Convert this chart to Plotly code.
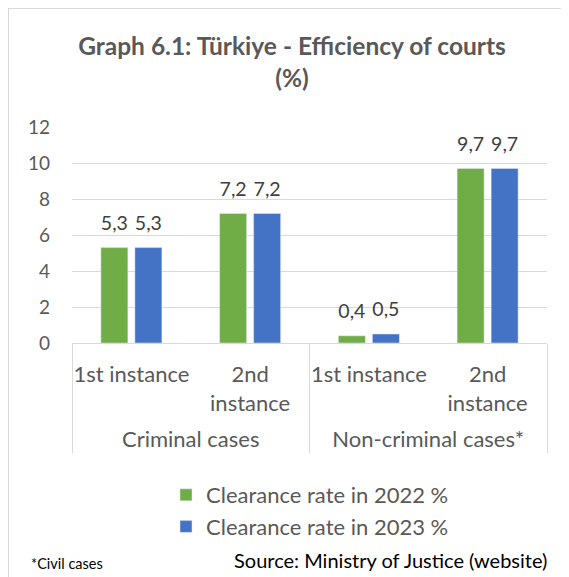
import plotly.graph_objects as go

groups = ["Criminal cases", "Criminal cases", "Non-criminal cases*", "Non-criminal cases*"]
instances = ["1st instance", "2nd<br>instance", "1st instance", "2nd<br>instance"]
rate_2022 = [5.3, 7.2, 0.4, 9.7]
rate_2023 = [5.3, 7.2, 0.5, 9.7]
series_names = ["Clearance rate in 2022 %", "Clearance rate in 2023 %"]
colors = ["#70AD47", "#4472C4"]

# page has an 8px body margin: work in page pixels, convert to figure pixels
OFF = 8
W, H = 561, 569
L, R = 72 - OFF, W - (547 - OFF)
T, B = 127 - OFF, H - (343 - OFF)
pw, ph = W - L - R, H - T - B

def px(x):
    return (x - OFF - L) / pw

def py(y):
    return (H - B - (y - OFF)) / ph

FONT = "Lato"
GAP = 0.427
CAT_SIZE = 22
# group (outer) labels: pushed a little lower, as in the reference
group_labels = [f"<br><sup><span style='font-size:{CAT_SIZE}px'>{g}</span></sup>" for g in groups]
xcats = [group_labels, instances]

fig = go.Figure()
for name, vals, c in zip(series_names, [rate_2022, rate_2023], colors):
    fig.add_trace(go.Bar(x=xcats, y=vals, name=name, marker_color=c, hoverinfo="y"))
for name, vals in zip(series_names, [rate_2022, rate_2023]):
    fig.add_trace(go.Scatter(
        x=xcats, y=vals, name=name, showlegend=False,
        mode="markers+text", marker=dict(size=19, color="rgba(0,0,0,0)"),
        texttemplate="%{y:.1f}", textposition="top center", cliponaxis=False,
        textfont=dict(size=19.5, color="#404040", family=FONT), hoverinfo="skip",
    ))

fig.update_layout(
    width=W, height=H,
    margin=dict(l=L, r=R, t=T, b=B),
    paper_bgcolor="white", plot_bgcolor="white",
    separators=", ",
    barmode="group", bargap=GAP, bargroupgap=0.206,
    scattermode="group", scattergap=GAP,
    font=dict(family=FONT, color="#595959", size=18),
    title=dict(text="<b>Graph 6.1: Türkiye - Efficiency of courts<br>(%)</b>",
               x=(292 - OFF) / W, xref="container", xanchor="center",
               y=1 - (55 - OFF) / H, yref="container", yanchor="middle",
               font=dict(size=24.5, color="#595959", family=FONT)),
    showlegend=True,
    legend=dict(x=px(166), y=py(474), xanchor="left", yanchor="top",
                orientation="v", font=dict(size=22, color="#595959", family=FONT),
                traceorder="normal", itemwidth=30, tracegroupgap=0, bgcolor="rgba(0,0,0,0)"),
    yaxis=dict(range=[0, 12], dtick=2, showgrid=True, gridcolor="#D9D9D9", gridwidth=1,
               zeroline=False, showline=False, ticks="", ticklabelstandoff=21,
               tickfont=dict(size=19, color="#595959")),
    xaxis=dict(type="multicategory", showline=True, linecolor="#D9D9D9", linewidth=1,
               showdividers=True, dividercolor="#D9D9D9", dividerwidth=1, tickangle=0,
               tickfont=dict(size=CAT_SIZE, color="#595959"), ticks="", ticklabelstandoff=12),
    shapes=[
        dict(type="line", xref="paper", yref="paper", x0=px(7), x1=px(620), y0=py(8), y1=py(8),
             line=dict(color="#D9D9D9", width=2)),
        dict(type="line", xref="paper", yref="paper", x0=px(8), x1=px(8), y0=py(8), y1=py(620),
             line=dict(color="#D9D9D9", width=2)),
    ],
    annotations=[
        dict(text="*Civil cases", xref="paper", yref="paper", x=px(29), y=py(563),
             xanchor="left", yanchor="middle", showarrow=False,
             font=dict(size=14.5, color="#000000", family=FONT)),
        dict(text="Source: Ministry of Justice (website)", xref="paper", yref="paper",
             x=px(549), y=py(560), xanchor="right", yanchor="middle", showarrow=False,
             font=dict(size=20, color="#000000", family=FONT)),
    ],
)

fig.write_html("out.html")
